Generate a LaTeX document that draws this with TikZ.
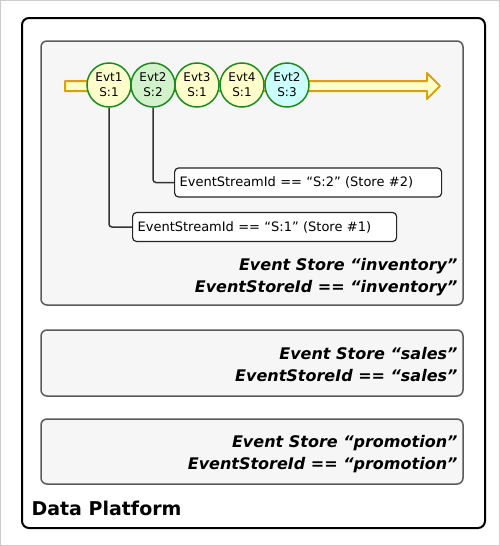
\documentclass[tikz,border=0pt]{standalone}
\usepackage{fontspec}
\setmainfont{DejaVu Sans}
\usetikzlibrary{calc}
\definecolor{storeline}{HTML}{5A5A5A}
\definecolor{storefill}{HTML}{F6F6F6}
\definecolor{evtline}{HTML}{1F8A1F}
\definecolor{evtyellow}{HTML}{FFFFCC}
\definecolor{evtgreen}{HTML}{D2F2CC}
\definecolor{evtcyan}{HTML}{CCFFFF}
\definecolor{flowline}{HTML}{D6A20A}
\definecolor{flowfill}{HTML}{FFFFC8}
\tikzset{
	store/.style={draw=storeline, fill=storefill, line width=1.5pt, rounded corners=6pt},
	evt/.style={circle, draw=evtline, line width=1.5pt, minimum size=44pt, inner sep=0pt, align=center, font=\fontsize{12}{15}\selectfont},
	streambox/.style={draw=black!85, fill=white, line width=1.2pt, rounded corners=4pt, anchor=west, text width=257pt, inner sep=5pt, minimum height=29pt, align=left, font=\fontsize{13}{15}\selectfont},
	storelabel/.style={anchor=east, align=right, font=\fontsize{16}{22}\selectfont\bfseries\itshape},
	link/.style={draw=black!80, line width=1.5pt, rounded corners=3pt}
}

\begin{document}
\begin{tikzpicture}[x=1pt, y=-1pt]
			%%%%% START %%%%%
			\useasboundingbox (0, 0) rectangle (500, 546);
			\draw[color=black!20, line width=1pt] (0.5, 0.5) rectangle (499.5, 545.5);
			
			\draw[line width=2pt, rounded corners=7pt] (22, 18) rectangle (485, 528);
			\node[anchor=base west, font=\fontsize{19}{22}\selectfont\bfseries] (platform) at (28, 515) {Data Platform};
			
			\draw[store] (41, 41) rectangle (463, 305);
			\draw[store] (41, 330) rectangle (463, 396);
			\draw[store] (41, 419) rectangle (463, 484);
			
			\draw[line width=2pt, color=flowline, fill=flowfill, line join=round] (65, 81) -- (427, 81) -- (427, 73) -- (440, 86) -- (427, 99) -- (427, 91) -- (65, 91) -- cycle;
			
			\node[evt, fill=evtyellow] (e1) at (109, 85) {Evt1\\S:1};
			\node[evt, fill=evtgreen] (e2) at (153, 85) {Evt2\\S:2};
			\node[evt, fill=evtyellow] (e3) at (197, 85) {Evt3\\S:1};
			\node[evt, fill=evtyellow] (e4) at (242, 85) {Evt4\\S:1};
			\node[evt, fill=evtcyan] (e5) at (287, 85) {Evt2\\S:3};
			
			\node[streambox] (s2) at (174, 182.5) {EventStreamId == “S:2” (Store \#2)};
			\node[streambox, text width=254pt] (s1) at (132, 227) {EventStreamId == “S:1” (Store \#1)};
			
			\draw[link] (e2.south) |- (s2.west);
			\draw[link] (e1.south) |- (s1.west);
			
			\node[storelabel] (inventory) at (461, 277) {Event Store “inventory”\\EventStoreId == “inventory”};
			\node[storelabel] (sales) at (461, 365) {Event Store “sales”\\EventStoreId == “sales”};
			\node[storelabel] (promotion) at (461, 454) {Event Store “promotion”\\EventStoreId == “promotion”};
			%%%%% END %%%%%
\end{tikzpicture}
\end{document}
